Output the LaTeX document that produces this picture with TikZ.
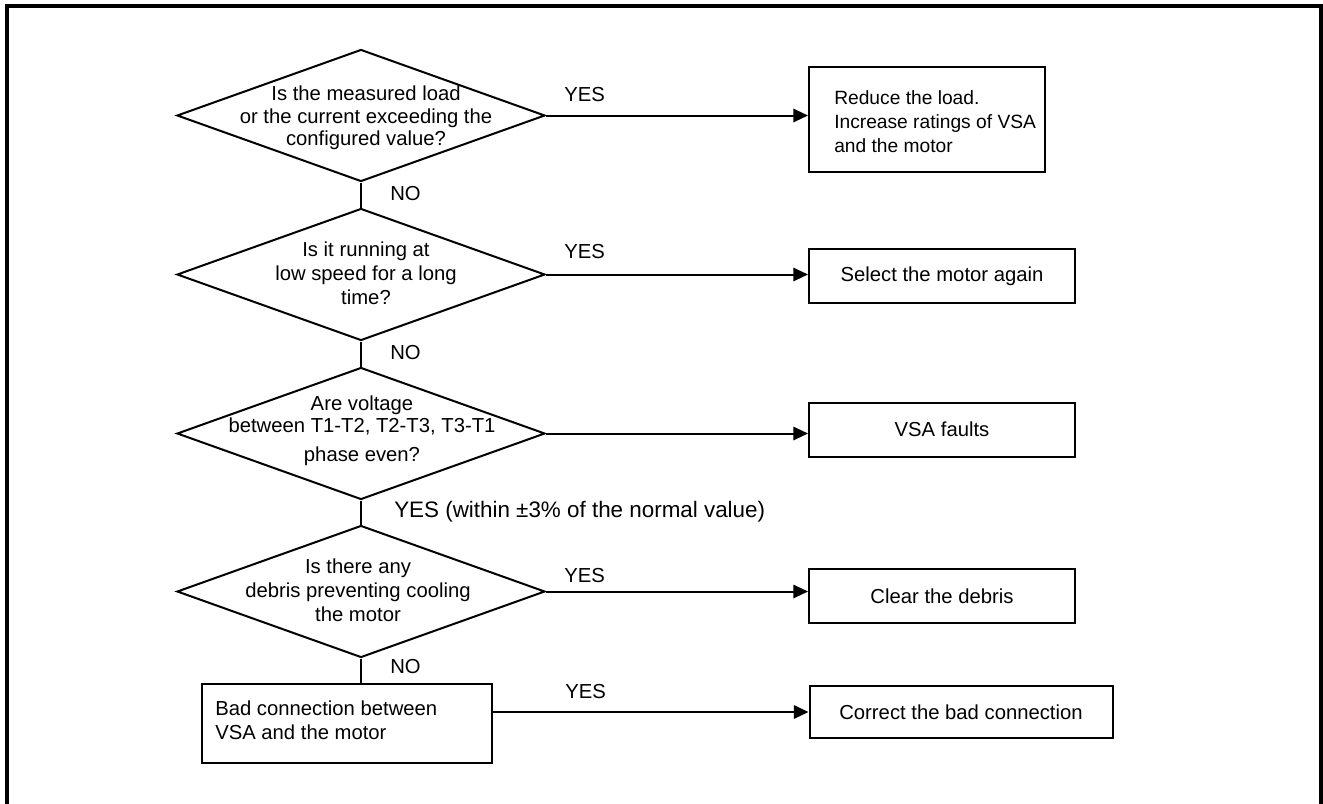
\documentclass[tikz,border=0pt]{standalone}
\usepackage{fontspec}
\setmainfont{Liberation Sans}
\usetikzlibrary{shapes.geometric,arrows.meta}
\newcommand{\fs}{\fontsize{15.2pt}{18pt}\selectfont}
\begin{document}
\begin{tikzpicture}[x=0.75pt,y=-0.75pt,
  dia/.style={draw, diamond, line width=1.5pt, minimum width=276pt, minimum height=99pt, inner sep=0pt},
  dtext/.style={align=center, font=\fs, inner sep=0pt},
  rbox/.style={draw, line width=1.5pt, inner sep=0pt, font=\fs, align=center},
  btext/.style={align=left, font=\fs, inner sep=0pt, anchor=west},
  lbl/.style={font=\fs, inner sep=0pt, anchor=west},
  conn/.style={line width=1.5pt},
  arr/.style={conn, -{Triangle[length=11pt,width=10pt]}}
]
\useasboundingbox (0,0) rectangle (1323,803);
\draw[line width=2.3pt] (7,6) rectangle (1321,840);

% decisions
\node[dia] (d1) at (361,115.5) {};
\node[dtext, font=\fontsize{15.2pt}{16.8pt}\selectfont] (d1t) at (366,118) {Is the measured load\\or the current exceeding the\\configured value?};
\node[dia] (d2) at (361,274.5) {};
\node[dtext] (d2t) at (366,273) {Is it running at\\low speed for a long\\time?};
\node[dia] (d3) at (361,433.5) {};
\node[dtext, font=\fontsize{15.2pt}{16.5pt}\selectfont] (d3t) at (362,431) {Are voltage\\between T1-T2, T2-T3, T3-T1\\[5pt]phase even?};
\node[dia] (d5) at (361,591.5) {};
\node[dtext] (d5t) at (358,590) {Is there any\\debris preventing cooling\\the motor};

% boxes
\node[rbox, minimum width=177pt, minimum height=78.75pt] (b1) at (927,119.5) {};
\node[btext, font=\fontsize{14.4pt}{18pt}\selectfont] (b1t) at (834,122) {Reduce the load.\\Increase ratings of VSA\\and the motor};
\node[rbox, minimum width=199.5pt, minimum height=40.5pt] (b2) at (942,276) {Select the motor again};
\node[rbox, minimum width=199.5pt, minimum height=40.5pt] (b3) at (942,429.5) {VSA faults};
\node[rbox, minimum width=199.5pt, minimum height=40.5pt] (b4) at (942,596) {Clear the debris};
\node[rbox, minimum width=227.25pt, minimum height=39pt] (b5) at (961,712) {Correct the bad connection};
\node[rbox, minimum width=217.5pt, minimum height=59.25pt] (b6) at (347,723.5) {};
\node[btext] (b6t) at (215,720) {Bad connection between\\VSA and the motor};

% connectors
\draw[conn] (d1.south) -- (d2.north);
\draw[conn] (d2.south) -- (d3.north);
\draw[conn] (d3.south) -- (d5.north);
\draw[conn] (d5.south) -- (d5.south |- b6.north);
\draw[arr] (d1.east) -- (d1.east -| b1.west);
\draw[arr] (d2.east) -- (d2.east -| b2.west);
\draw[arr] (d3.east) -- (d3.east -| b3.west);
\draw[arr] (d5.east) -- (d5.east -| b4.west);
\draw[arr] (b6.east |- b5.west) -- (b5.west);

% labels
\node[lbl] (y1) at (564,95) {YES};
\node[lbl] (y2) at (564,252) {YES};
\node[lbl] (y4) at (564,576) {YES};
\node[lbl] (y5) at (565,692) {YES};
\node[lbl] (n1) at (390,194) {NO};
\node[lbl] (n2) at (390,353) {NO};
\node[lbl] (n5) at (390,667) {NO};
\node[lbl, font=\fontsize{16.8pt}{18pt}\selectfont] (y3) at (394,512) {YES (within ±3\% of the normal value)};
\end{tikzpicture}
\end{document}
